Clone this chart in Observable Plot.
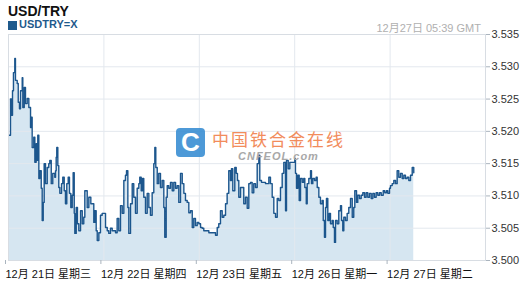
<!DOCTYPE html>
<html><head><meta charset="utf-8">
<script src="https://cdn.jsdelivr.net/npm/d3@7"></script>
<script src="https://cdn.jsdelivr.net/npm/@observablehq/plot@0.6"></script>
<style>
body{margin:0;background:#fff;font-family:"Liberation Sans",Arial,sans-serif;}
#wrap{position:relative;width:525px;height:288px;overflow:hidden;}
.abs{position:absolute;white-space:nowrap;}
</style></head><body>
<div id="wrap">
<div class="abs" id="title" style="left:8px;top:3px;font-size:14px;font-weight:bold;color:#111;">USD/TRY</div>
<div class="abs" style="left:8px;top:21px;width:9px;height:9px;background:#1f5a8c;"></div>
<div class="abs" id="sub" style="left:19px;top:18px;font-size:11px;font-weight:bold;color:#1f5a8c;">USDTRY=X</div>
<div class="abs" id="stamp" style="right:44px;top:19px;font-size:11px;color:#b0b0b0;font-family:'Liberation Sans','Noto Sans CJK SC',sans-serif;">12月27日 05:39 GMT</div>
</div>
<script>
// trading-day offsets from 12月21日 00:00 (x) and USD/TRY quotes
const times = [0.010,0.021,0.031,0.042,0.052,0.066,0.073,0.091,0.102,0.115,0.126,0.144,0.150,0.165,0.178,0.196,0.213,0.231,0.241,0.248,0.265,0.276,0.290,0.301,0.307,0.318,0.328,0.343,0.353,0.364,0.374,0.388,0.406,0.422,0.433,0.448,0.464,0.485,0.493,0.500,0.506,0.517,0.527,0.538,0.556,0.569,0.584,0.597,0.611,0.626,0.639,0.653,0.668,0.678,0.689,0.695,0.710,0.723,0.737,0.755,0.773,0.789,0.800,0.814,0.825,0.842,0.863,0.884,0.894,0.905,0.919,0.930,0.947,0.964,0.982,0.999,1.017,1.035,1.051,1.069,1.087,1.122,1.139,1.156,1.174,1.192,1.209,1.226,1.237,1.251,1.261,1.279,1.297,1.313,1.331,1.349,1.366,1.376,1.391,1.405,1.418,1.436,1.454,1.471,1.488,1.506,1.523,1.534,1.544,1.559,1.575,1.593,1.611,1.628,1.638,1.653,1.664,1.680,1.698,1.716,1.733,1.751,1.768,1.785,1.803,1.821,1.838,1.855,1.873,1.890,1.908,1.926,1.942,1.960,1.978,1.995,2.013,2.030,2.047,2.065,2.100,2.135,2.170,2.188,2.204,2.222,2.240,2.257,2.275,2.292,2.309,2.327,2.337,2.351,2.372,2.387,2.400,2.414,2.432,2.450,2.466,2.484,2.502,2.519,2.537,2.554,2.571,2.589,2.607,2.624,2.634,2.652,2.676,2.694,2.712,2.729,2.746,2.764,2.781,2.799,2.817,2.833,2.851,2.869,2.886,2.904,2.914,2.932,2.949,2.974,3.001,3.008,3.019,3.033,3.047,3.061,3.079,3.095,3.106,3.121,3.131,3.148,3.166,3.176,3.190,3.208,3.225,3.236,3.253,3.270,3.288,3.299,3.312,3.323,3.333,3.347,3.362,3.375,3.393,3.404,3.417,3.428,3.445,3.462,3.480,3.491,3.504,3.515,3.532,3.550,3.567,3.585,3.603,3.619,3.630,3.648,3.661,3.679,3.697,3.714,3.732,3.749,3.766,3.784,3.802,3.819,3.836,3.854,3.871,3.889,3.907,3.928,3.944,3.962,3.976,3.994,4.004,4.022,4.039,4.057,4.074,4.091,4.109,4.127,4.144,4.161,4.179,4.196,4.214,4.232,4.248];
const rates = [3.5194,3.5250,3.5225,3.5263,3.5291,3.5313,3.5279,3.5274,3.5245,3.5235,3.5263,3.5283,3.5237,3.5268,3.5243,3.5251,3.5237,3.5206,3.5222,3.5175,3.5191,3.5152,3.5181,3.5155,3.5194,3.5127,3.5139,3.5112,3.5062,3.5090,3.5150,3.5119,3.5144,3.5150,3.5155,3.5119,3.5135,3.5129,3.5139,3.5160,3.5175,3.5147,3.5113,3.5104,3.5119,3.5129,3.5108,3.5088,3.5119,3.5129,3.5104,3.5082,3.5101,3.5136,3.5073,3.5042,3.5082,3.5057,3.5046,3.5077,3.5057,3.5067,3.5108,3.5108,3.5082,3.5098,3.5088,3.5088,3.5059,3.5077,3.5046,3.5031,3.5043,3.5070,3.5073,3.5073,3.5051,3.5046,3.5042,3.5050,3.5046,3.5043,3.5065,3.5046,3.5085,3.5073,3.5124,3.5132,3.5139,3.5082,3.5042,3.5088,3.5119,3.5098,3.5073,3.5112,3.5119,3.5129,3.5108,3.5127,3.5098,3.5073,3.5104,3.5082,3.5070,3.5105,3.5150,3.5175,3.5144,3.5119,3.5135,3.5113,3.5124,3.5082,3.5036,3.5098,3.5116,3.5112,3.5121,3.5108,3.5121,3.5112,3.5116,3.5090,3.5135,3.5119,3.5104,3.5093,3.5090,3.5074,3.5077,3.5051,3.5065,3.5054,3.5059,3.5057,3.5051,3.5050,3.5046,3.5046,3.5043,3.5043,3.5039,3.5051,3.5057,3.5077,3.5067,3.5070,3.5088,3.5104,3.5139,3.5124,3.5142,3.5108,3.5144,3.5135,3.5124,3.5098,3.5113,3.5113,3.5088,3.5098,3.5081,3.5119,3.5121,3.5105,3.5119,3.5113,3.5150,3.5163,3.5124,3.5121,3.5121,3.5119,3.5119,3.5129,3.5119,3.5098,3.5073,3.5067,3.5096,3.5093,3.5113,3.5135,3.5152,3.5077,3.5155,3.5142,3.5152,3.5152,3.5158,3.5135,3.5112,3.5132,3.5093,3.5127,3.5121,3.5127,3.5113,3.5088,3.5119,3.5127,3.5139,3.5119,3.5127,3.5124,3.5129,3.5113,3.5098,3.5088,3.5093,3.5062,3.5036,3.5082,3.5096,3.5062,3.5073,3.5057,3.5062,3.5051,3.5028,3.5062,3.5057,3.5077,3.5085,3.5062,3.5046,3.5067,3.5062,3.5073,3.5082,3.5096,3.5067,3.5082,3.5108,3.5090,3.5101,3.5096,3.5101,3.5105,3.5098,3.5105,3.5098,3.5104,3.5096,3.5104,3.5098,3.5105,3.5101,3.5105,3.5101,3.5108,3.5105,3.5108,3.5104,3.5112,3.5116,3.5119,3.5124,3.5119,3.5139,3.5129,3.5135,3.5127,3.5132,3.5127,3.5129,3.5124,3.5132,3.5144,3.5136];
const dayTicks = [0,1,2,3,4];
const dayLabels = ["12月 21日 星期三","12月 22日 星期四","12月 23日 星期五","12月 26日 星期一","12月 27日 星期二"];
const rateTicks = [3.500,3.505,3.510,3.515,3.520,3.525,3.530,3.535];

const data = times.map((t,i)=>({t, v: rates[i]}));
const grid = "#e3e8ee";
const chart = Plot.plot({
  width: 525, height: 288,
  marginTop: 34, marginBottom: 28, marginLeft: 8, marginRight: 40,
  style: {fontFamily: "'Liberation Sans','Noto Sans CJK SC',sans-serif", fontSize: "11px", color: "#222", background: "transparent"},
  x: {domain: [0,5]},
  y: {domain: [3.500,3.535]},
  marks: [
    Plot.areaY(data, {x: "t", y1: 3.5, y2: "v", fill: "#d6e6f1", curve: "step-after"}),
    Plot.gridY(rateTicks, {stroke: grid, strokeOpacity: 1}),
    Plot.gridX([1,2,3,4], {stroke: grid, strokeOpacity: 1}),
    Plot.lineY(data, {x: "t", y: "v", stroke: "#1c568d", strokeWidth: 1.4, curve: "step-after"}),
    Plot.frame({stroke: "#d8dde3"}),
    Plot.axisY(rateTicks, {anchor: "right", tickSize: 4, tickPadding: 2, tickFormat: d => d.toFixed(3), stroke: "#aab4be", fill: "#333", label: null}),
    Plot.axisX(dayTicks, {tickSize: 4, tickPadding: 6, tickFormat: i => dayLabels[i], textAnchor: "start", dx: -3, stroke: "#aab4be", fill: "#111", label: null})
  ]
});
chart.style.position = "absolute";
chart.style.left = "0px";
chart.style.top = "0px";
const wrap = document.getElementById("wrap");
wrap.insertBefore(chart, wrap.firstChild);

// watermark
const wm = document.createElement("div");
wm.className = "abs";
wm.style.cssText = "left:176px;top:128px;width:29px;height:29px;background:#3a8fd3;border-radius:4px;opacity:0.9;color:#fff;font:bold 26px 'Liberation Sans',sans-serif;line-height:29px;text-align:center;";
wm.textContent = "C";
wrap.appendChild(wm);
const wt = document.createElement("div");
wt.className = "abs";
wt.style.cssText = "left:212px;top:130px;font-size:17px;line-height:17px;letter-spacing:2px;color:#f07840;opacity:0.85;font-family:'Noto Sans CJK SC',sans-serif;";
wt.textContent = "中国铁合金在线";
wrap.appendChild(wt);
const wc = document.createElement("div");
wc.className = "abs";
wc.style.cssText = "left:238px;top:151px;font-size:11px;line-height:11px;font-weight:bold;font-style:italic;letter-spacing:1px;color:#a8a8a8;";
wc.textContent = "CNFEOL.com";
wrap.appendChild(wc);
</script>
</body></html>
